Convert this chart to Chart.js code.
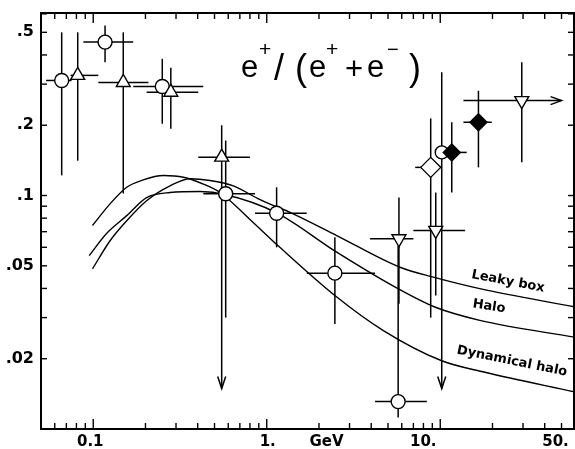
<!DOCTYPE html>
<html><head><meta charset="utf-8">
<style>html,body{margin:0;padding:0;background:#fff;}</style>
<script src="https://cdn.jsdelivr.net/npm/chart.js@4.4.1/dist/chart.umd.min.js"></script>
</head><body>
<canvas id="c" width="575" height="449"></canvas>
<script>
// ---------- data ----------
// open circles
const circX   = [0.0658, 0.117, 0.25, 0.58, 1.14, 2.47, 5.72, 10.2];
const circY   = [0.311, 0.454, 0.293, 0.1017, 0.084, 0.0465, 0.0131, 0.153];
const circXLo = [0.0535, 0.0877, 0.170, 0.431, 0.856, 1.70, 4.21, null];
const circXHi = [0.075, 0.170, 0.431, 0.856, 1.70, 4.21, 8.37, null];
const circYLo = [0.122, 0.372, 0.203, 0.030, 0.060, 0.0282, 0.0112, 0.0149];
const circYHi = [0.50, 0.535, 0.385, 0.172, 0.1085, 0.0662, 0.061, 0.337];
const circArrow = [null, null, null, null, null, null, null, 'down'];
// open up-triangles
const triUpX   = [0.0814, 0.149, 0.28, 0.55];
const triUpY   = [0.327, 0.305, 0.277, 0.146];
const triUpXLo = [0.074, 0.107, 0.203, 0.403];
const triUpXHi = [0.107, 0.208, 0.403, 0.80];
const triUpYLo = [0.141, 0.102, 0.193, 0.0149];
const triUpYHi = [0.50, 0.50, 0.353, 0.20];
const triUpArrow = [null, null, null, 'down'];
// open down-triangles
const triDnX   = [5.78, 9.42, 29.5];
const triDnY   = [0.0653, 0.0709, 0.255];
const triDnXLo = [3.94, 7.0, 13.6];
const triDnXHi = [7.0, 13.9, 50];
const triDnYLo = [0.0344, 0.0373, 0.139];
const triDnYHi = [0.098, 0.103, 0.372];
const triDnArrow = [null, null, 'right'];
// open diamond
const diaOX   = [8.81];
const diaOY   = [0.132];
const diaOXLo = [7.17];
const diaOXHi = [10.2];
const diaOYLo = [0.030];
const diaOYHi = [0.214];
const diaOArrow = [null];
// filled diamonds
const diaFX   = [11.65, 16.6];
const diaFY   = [0.153, 0.206];
const diaFXLo = [10.2, 13.6];
const diaFXHi = [14.2, 19.8];
const diaFYLo = [0.103, 0.132];
const diaFYHi = [0.206, 0.281];
const diaFArrow = [null, null];

// model curves
const leakyX = [0.099, 0.125, 0.156, 0.203, 0.277, 0.362, 0.471, 0.642, 0.915, 1.42, 2.53, 5.86, 9.13, 16.9, 60];
const leakyY = [0.0485, 0.064, 0.078, 0.095, 0.110, 0.118, 0.116, 0.110, 0.096, 0.0835, 0.0674, 0.0493, 0.0447, 0.0399, 0.0333];
const haloX  = [0.0948, 0.119, 0.156, 0.203, 0.277, 0.413, 0.575, 1.14, 2.53, 5.74, 9.3, 16.9, 60];
const haloY  = [0.0553, 0.0686, 0.082, 0.098, 0.103, 0.104, 0.101, 0.0843, 0.0572, 0.0398, 0.0333, 0.0292, 0.0247];
const dynX   = [0.099, 0.125, 0.156, 0.194, 0.254, 0.331, 0.431, 0.538, 0.80, 1.19, 2.47, 4.7, 10.2, 18.1, 60];
const dynY   = [0.0744, 0.0921, 0.1085, 0.1167, 0.1218, 0.1198, 0.112, 0.103, 0.079, 0.060, 0.0373, 0.0264, 0.0196, 0.0175, 0.0144];

// tick labels
const yTickValues = [0.02, 0.05, 0.1, 0.2, 0.5];
const yTickLabels = ['.02', '.05', '.1', '.2', '.5'];
const xTickValues = [0.1, 1, 10, 50];
const xTickLabels = ['0.1', '1.', '10.', '50.'];
const xUnitLabel = 'GeV';
const curveNames = ['Leaky box', 'Halo', 'Dynamical halo'];

// ---------- styles / layout ----------
const xLabelShift = [-3, 1, -17, -6];
const FONT = 'DejaVu Sans';
const curveLabelAnchors = [[24.6, 0.0428, 0.19], [19.1, 0.0335, 0.15], [25.9, 0.0195, 0.2]];

const zip = (xs, ys) => xs.map((v, i) => ({x: v, y: ys[i]}));

const markerSeries = [
  {x: circX, y: circY, xLo: circXLo, xHi: circXHi, yLo: circYLo, yHi: circYHi, arrow: circArrow},
  {x: triUpX, y: triUpY, xLo: triUpXLo, xHi: triUpXHi, yLo: triUpYLo, yHi: triUpYHi, arrow: triUpArrow},
  {x: triDnX, y: triDnY, xLo: triDnXLo, xHi: triDnXHi, yLo: triDnYLo, yHi: triDnYHi, arrow: triDnArrow},
  {x: diaOX, y: diaOY, xLo: diaOXLo, xHi: diaOXHi, yLo: diaOYLo, yHi: diaOYHi, arrow: diaOArrow},
  {x: diaFX, y: diaFY, xLo: diaFXLo, xHi: diaFXHi, yLo: diaFYLo, yHi: diaFYHi, arrow: diaFArrow}
];

const errorBarPlugin = {
  id: 'errbars',
  beforeDatasetsDraw(chart) {
    const ctx = chart.ctx, xs = chart.scales.x, ys = chart.scales.y;
    ctx.save();
    ctx.strokeStyle = '#000';
    ctx.lineWidth = 1.5;
    const seg = (a, b, c, d) => { ctx.beginPath(); ctx.moveTo(a, b); ctx.lineTo(c, d); ctx.stroke(); };
    for (const s of markerSeries) {
      for (let i = 0; i < s.x.length; i++) {
        const px = xs.getPixelForValue(s.x[i]);
        const py = ys.getPixelForValue(s.y[i]);
        if (s.xLo[i] != null) seg(xs.getPixelForValue(s.xLo[i]), py, xs.getPixelForValue(s.xHi[i]), py);
        if (s.yLo[i] != null) seg(px, ys.getPixelForValue(s.yLo[i]), px, ys.getPixelForValue(s.yHi[i]));
        if (s.arrow[i] === 'down') {
          const ye = ys.getPixelForValue(s.yLo[i]);
          ctx.beginPath(); ctx.moveTo(px - 4, ye - 12); ctx.lineTo(px, ye); ctx.lineTo(px + 4, ye - 12); ctx.stroke();
        } else if (s.arrow[i] === 'right') {
          const xe = xs.getPixelForValue(s.xHi[i]);
          ctx.beginPath(); ctx.moveTo(xe - 11, py - 4); ctx.lineTo(xe, py); ctx.lineTo(xe - 11, py + 4); ctx.stroke();
        }
      }
    }
    ctx.restore();
  }
};

function logTicks(min, max) {
  const out = [];
  for (let e = -3; e <= 3; e++) for (let m = 1; m <= 9; m++) {
    const v = m * Math.pow(10, e);
    if (v > min * 1.001 && v < max * 0.999) out.push({v: v, major: m === 1});
  }
  return out;
}

const framePlugin = {
  id: 'frame',
  afterDraw(chart) {
    const ctx = chart.ctx, ca = chart.chartArea, xs = chart.scales.x, ys = chart.scales.y;
    ctx.save();
    ctx.strokeStyle = '#000';
    ctx.lineWidth = 1.4;
    // ticks (inside, on all four sides)
    for (const t of logTicks(xs.min, xs.max)) {
      const p = xs.getPixelForValue(t.v), L = t.major ? 10 : 6;
      ctx.beginPath(); ctx.moveTo(p, ca.bottom); ctx.lineTo(p, ca.bottom - L); ctx.stroke();
      ctx.beginPath(); ctx.moveTo(p, ca.top); ctx.lineTo(p, ca.top + L); ctx.stroke();
    }
    for (const t of logTicks(ys.min, ys.max)) {
      const p = ys.getPixelForValue(t.v), L = 6;
      ctx.beginPath(); ctx.moveTo(ca.left, p); ctx.lineTo(ca.left + L, p); ctx.stroke();
      ctx.beginPath(); ctx.moveTo(ca.right, p); ctx.lineTo(ca.right - L, p); ctx.stroke();
    }
    // frame
    ctx.lineWidth = 2;
    ctx.strokeRect(ca.left, ca.top, ca.right - ca.left, ca.bottom - ca.top);
    // x labels
    ctx.fillStyle = '#000';
    ctx.font = 'bold 15px "' + FONT + '"';
    ctx.textAlign = 'center';
    ctx.textBaseline = 'middle';
    xTickValues.forEach((v, i) => {
      ctx.fillText(xTickLabels[i], xs.getPixelForValue(v) + xLabelShift[i], ca.bottom + 13);
    });
    ctx.fillText(xUnitLabel, ca.left + (326.5 - 41) / 533 * (ca.right - ca.left), ca.bottom + 13);
    // title
    ctx.textAlign = 'left';
    ctx.textBaseline = 'alphabetic';
    const parts = [
      ['e', 31, 241, 77], ['+', 21, 259, 56], ['/', 36, 274, 80], ['(', 36, 295, 80],
      ['e', 31, 309, 77], ['+', 21, 326, 56], ['+', 31, 345, 79], ['e', 31, 367, 77],
      ['\u2212', 20, 387, 56], [')', 36, 409, 80]
    ];
    for (const p of parts) {
      ctx.font = p[1] + 'px "Liberation Sans"';
      ctx.fillText(p[0], p[2], p[3]);
    }
    // curve labels
    ctx.font = 'bold 13px "' + FONT + '"';
    ctx.textAlign = 'center';
    ctx.textBaseline = 'middle';
    curveNames.forEach((name, i) => {
      const a = curveLabelAnchors[i];
      ctx.save();
      ctx.translate(xs.getPixelForValue(a[0]), ys.getPixelForValue(a[1]));
      ctx.rotate(a[2]);
      ctx.fillText(name, 0, 0);
      ctx.restore();
    });
    ctx.restore();
  }
};

const markerCommon = {showLine: false, pointBorderColor: '#000', pointBorderWidth: 1.4, pointHoverRadius: 0};
const curveCommon = {showLine: true, pointRadius: 0, borderColor: '#000', borderWidth: 1.4, cubicInterpolationMode: 'monotone', fill: false};

new Chart(document.getElementById('c'), {
  type: 'scatter',
  data: {
    datasets: [
      Object.assign({label: 'filled diamonds', data: zip(diaFX, diaFY), pointStyle: 'rectRot', pointRadius: 8.5, pointBackgroundColor: '#000'}, markerCommon),
      Object.assign({label: 'open diamond', data: zip(diaOX, diaOY), pointStyle: 'rectRot', pointRadius: 10, pointBackgroundColor: '#fff'}, markerCommon),
      Object.assign({label: 'down triangles', data: zip(triDnX, triDnY), pointStyle: 'triangle', rotation: 180, pointRadius: 8, pointBackgroundColor: '#fff'}, markerCommon),
      Object.assign({label: 'up triangles', data: zip(triUpX, triUpY), pointStyle: 'triangle', pointRadius: 8, pointBackgroundColor: '#fff'}, markerCommon),
      Object.assign({label: 'circles', data: zip(circX, circY), pointStyle: 'circle', pointRadius: [7, 7, 7, 7, 7, 7, 7, 6.5], pointBackgroundColor: '#fff'}, markerCommon),
      Object.assign({label: curveNames[0], data: zip(leakyX, leakyY)}, curveCommon),
      Object.assign({label: curveNames[1], data: zip(haloX, haloY)}, curveCommon),
      Object.assign({label: curveNames[2], data: zip(dynX, dynY)}, curveCommon)
    ]
  },
  options: {
    responsive: false,
    animation: false,
    events: [],
    layout: {autoPadding: false, padding: {top: 13, right: 1, left: 0, bottom: 0}},
    plugins: {legend: {display: false}, tooltip: {enabled: false}, title: {display: false}},
    scales: {
      x: {
        type: 'logarithmic', min: 0.05, max: 59,
        grid: {display: false, drawTicks: false}, border: {display: false},
        ticks: {display: false},
        afterFit(s) { s.height = 20; s.paddingLeft = 0; s.paddingRight = 0; }
      },
      y: {
        type: 'logarithmic', min: 0.01, max: 0.605,
        grid: {display: false, drawTicks: false}, border: {display: false},
        afterBuildTicks(s) { s.ticks = yTickValues.map(v => ({value: v})); },
        ticks: {
          padding: 7, color: '#000',
          font: {family: FONT, size: 16, weight: 'bold'},
          callback(v) { const i = yTickValues.indexOf(v); return i >= 0 ? yTickLabels[i] : ''; }
        },
        afterFit(s) { s.width = 41; s.paddingTop = 0; s.paddingBottom = 0; }
      }
    }
  },
  plugins: [errorBarPlugin, framePlugin]
});
</script>
</body></html>
